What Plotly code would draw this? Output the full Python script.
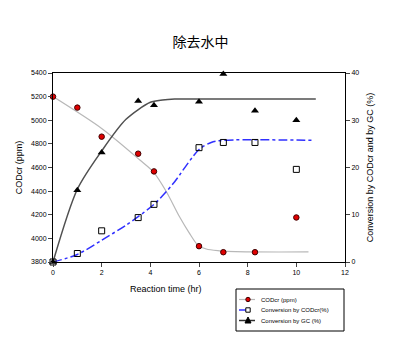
import plotly.graph_objects as go

# measured points
time_pts = [0, 1, 2, 3.5, 4.15, 6, 7, 8.3, 10]
codcr_ppm = [5200, 5107, 4861, 4717, 4567, 3934, 3883, 3883, 4177]
conv_codcr = [0, 1.8, 6.6, 9.4, 12.2, 24.2, 25.3, 25.3, 19.6]
conv_gc = [0, 15.2, 23.2, 34.1, 33.2, 33.9, 39.8, 32.0, 30.0]

# fitted curves
fit_ppm_x = [0, 2, 3.57, 4.14, 4.66, 5.2, 5.61, 5.95, 6.3, 6.84, 7.5, 10.5]
fit_ppm_y = [5200, 4930, 4663, 4559, 4395, 4183, 4043, 3944, 3910, 3895, 3887, 3885]
fit_codcr_x = [0, 1, 2, 3, 3.5, 4.15, 4.66, 5, 6, 6.5, 7, 10.7]
fit_codcr_y = [0, 1.6, 4.6, 7.8, 9.6, 12.2, 14.9, 17.0, 23.8, 25.3, 25.75, 25.75]
fit_gc_x = [0, 1, 2, 3, 4, 4.5, 5, 6, 8, 10.8]
fit_gc_y = [0, 15.4, 23.5, 30.2, 33.8, 34.3, 34.5, 34.5, 34.5, 34.5]

labels = ["CODcr (ppm)", "Conversion by CODcr(%)", "Conversion by GC (%)"]
x_ticks = [0, 2, 4, 6, 8, 10, 12]

RED = "#e00000"
GRAY = "#b8b8b8"
BLUE = "#3030ff"
DARK = "#505050"

# figure geometry (pixels)
W, H = 401, 351
L, R, T, B = 53, 56, 73, 89
PW, PH = W - L - R, H - T - B


def px(xp):
    return (xp - L) / PW


def py(yp):
    return (H - B - yp) / PH


fig = go.Figure()
fig.add_trace(go.Scatter(x=fit_ppm_x, y=fit_ppm_y, mode="lines",
                         line=dict(color=GRAY, width=1.2, shape="spline", smoothing=0.8),
                         showlegend=False, yaxis="y"))
fig.add_trace(go.Scatter(x=fit_codcr_x, y=fit_codcr_y, mode="lines",
                         line=dict(color=BLUE, width=1.5, dash="dashdot", shape="spline", smoothing=0.8),
                         showlegend=False, yaxis="y2"))
fig.add_trace(go.Scatter(x=fit_gc_x, y=fit_gc_y, mode="lines",
                         line=dict(color=DARK, width=1.5, shape="spline", smoothing=0.8),
                         showlegend=False, yaxis="y2"))
fig.add_trace(go.Scatter(x=time_pts, y=codcr_ppm, mode="markers", name=labels[0],
                         marker=dict(symbol="circle", size=5.5, color=RED, line=dict(color="#400000", width=1)),
                         showlegend=False, cliponaxis=False, yaxis="y"))
fig.add_trace(go.Scatter(x=time_pts, y=conv_codcr, mode="markers", name=labels[1],
                         marker=dict(symbol="square-open", size=6, color="black", line=dict(width=1)),
                         showlegend=False, cliponaxis=False, yaxis="y2"))
fig.add_trace(go.Scatter(x=time_pts, y=conv_gc, mode="markers", name=labels[2],
                         marker=dict(symbol="triangle-up", size=7, color="black"),
                         showlegend=False, cliponaxis=False, yaxis="y2"))

# manual compact legend (layout only)
shapes = [dict(type="rect", xref="paper", yref="paper", x0=px(236), x1=px(344), y0=py(289), y1=py(331),
               line=dict(color="black", width=1), fillcolor="white", layer="above")]
annotations = []
rows = [299.5, 310, 320.5]
styles = [dict(color=GRAY, width=1.2, dash="solid"), dict(color=BLUE, width=1.5, dash="dash"),
          dict(color="#303030", width=1.5, dash="solid")]
for i, yy in enumerate(rows):
    shapes.append(dict(type="line", xref="paper", yref="paper", x0=px(239), x1=px(255), y0=py(yy), y1=py(yy),
                       line=styles[i], layer="above"))
    annotations.append(dict(text=labels[i], x=px(259), y=py(yy), xref="paper", yref="paper", xanchor="left",
                            yanchor="middle", showarrow=False, font=dict(size=6, color="black")))
r = 2.2
shapes.append(dict(type="circle", xref="paper", yref="paper", x0=px(248 - r), x1=px(248 + r),
                   y0=py(rows[0] + r), y1=py(rows[0] - r), fillcolor=RED, line=dict(color="#400000", width=1),
                   layer="above"))
shapes.append(dict(type="rect", xref="paper", yref="paper", x0=px(248 - r), x1=px(248 + r),
                   y0=py(rows[1] + r), y1=py(rows[1] - r), fillcolor="white", line=dict(color="black", width=1),
                   layer="above"))
tri = "M {} {} L {} {} L {} {} Z".format(px(245), py(rows[2] + 2.5), px(251), py(rows[2] + 2.5),
                                         px(248), py(rows[2] - 3.5))
shapes.append(dict(type="path", xref="paper", yref="paper", path=tri, fillcolor="black",
                   line=dict(color="black", width=1), layer="above"))

annotations.append(dict(text="Reaction time (hr)", x=px(166), y=py(289), xref="paper", yref="paper",
                        xanchor="center", yanchor="middle", showarrow=False, font=dict(size=9, color="black")))

tickfont = dict(family="Liberation Sans, Arial", size=7, color="black")
fig.update_layout(
    width=W, height=H,
    margin=dict(l=L, r=R, t=T, b=B),
    paper_bgcolor="white", plot_bgcolor="white",
    font=dict(family="Liberation Sans, Arial", color="black"),
    title=dict(text="除去水中", x=0.5, xanchor="center", y=1 - 42 / H, yanchor="middle",
               font=dict(family="Noto Sans CJK SC", size=14, color="black")),
    xaxis=dict(range=[0, 12], tickvals=x_ticks, ticks="outside", ticklen=4,
               showline=True, linecolor="black", linewidth=1, mirror=True, showgrid=False, zeroline=False,
               tickfont=tickfont),
    yaxis=dict(range=[3800, 5400], dtick=200, ticks="outside", ticklen=4, showline=True, linecolor="black",
               linewidth=1, showgrid=False, zeroline=False, tickfont=tickfont,
               title=dict(text="CODcr (ppm)", font=dict(size=9, color="black"), standoff=6)),
    yaxis2=dict(range=[0, 40], dtick=10, overlaying="y", side="right", ticks="outside", ticklen=4,
                showline=True, linecolor="black", linewidth=1, showgrid=False, zeroline=False,
                tickfont=tickfont,
                title=dict(text="Conversion by CODcr and by GC (%)", font=dict(size=9, color="black"), standoff=8)),
    showlegend=False,
    shapes=shapes,
    annotations=annotations,
)

fig.write_html("out.html")
